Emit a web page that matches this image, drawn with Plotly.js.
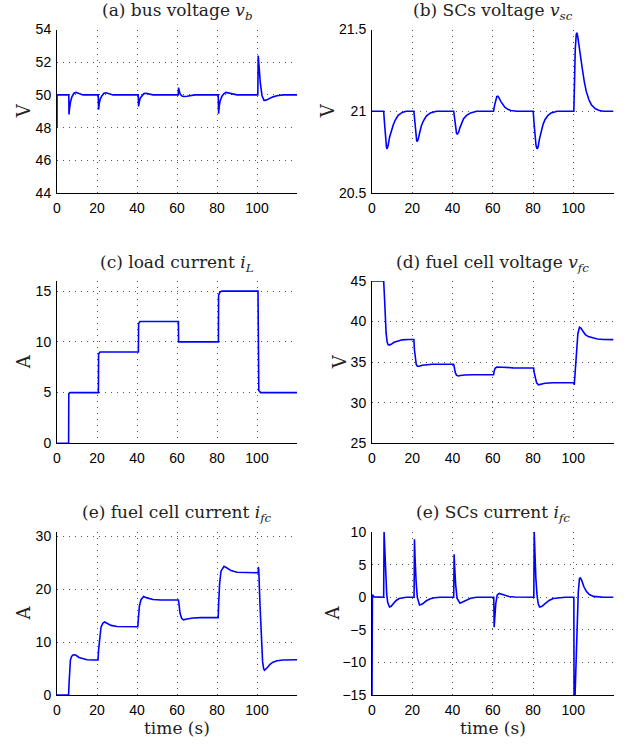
<!DOCTYPE html>
<html>
<head>
<meta charset="utf-8">
<script src="https://cdn.plot.ly/plotly-3.0.1.min.js"></script>
<style>html,body{margin:0;padding:0;background:#fff;}#chart{width:633px;height:744px;}</style>
</head>
<body>
<div id="chart"></div>
<script>
// ---- data ----
const xTicks = [0, 20, 40, 60, 80, 100];

const t_vb = [0, 0.01, 5.9, 6.0, 6.3, 6.8, 7.5, 8.5, 9.5, 11, 13,
  20.6, 20.8, 21.1, 21.6, 22.5, 23.5, 24.5, 26, 28,
  40.6, 40.8, 41.1, 41.6, 42.5, 43.5, 44.5, 46, 48,
  60.6, 60.8, 61.1, 61.6, 62.5, 63.5, 65, 67, 69,
  80.6, 80.8, 81.1, 81.6, 82.5, 83.5, 84.5, 86, 88, 90,
  100.4, 100.6, 101, 101.6, 102.5, 103.5, 104.5, 106, 108, 110, 113, 120];
const vb = [48.0, 50.0, 50.0, 48.8, 49.2, 49.6, 49.9, 50.1, 50.15, 50.08, 50.0,
  50.0, 49.1, 49.45, 49.75, 49.95, 50.1, 50.13, 50.07, 50.0,
  50.0, 49.3, 49.55, 49.8, 49.97, 50.08, 50.1, 50.05, 50.0,
  50.0, 50.45, 50.25, 50.05, 49.93, 49.9, 49.92, 49.97, 50.0,
  50.0, 48.85, 49.3, 49.65, 49.92, 50.08, 50.15, 50.12, 50.05, 50.0,
  50.0, 52.4, 51.8, 50.8, 49.95, 49.67, 49.68, 49.78, 49.88, 49.95, 50.0, 50.0];

const t_vsc = [0, 5.8, 6.2, 6.7, 7.2, 7.5, 8, 8.7, 9.5, 10.5, 11.5, 13, 15, 17,
  20.8, 21.2, 21.7, 22.2, 22.5, 23, 23.7, 24.5, 25.5, 27, 29, 32,
  40.6, 41, 41.5, 42, 42.4, 43, 43.7, 44.5, 45.5, 47, 49, 52,
  60.4, 60.8, 61.4, 62, 62.5, 63, 64, 65, 66, 67.5, 69, 72,
  80.1, 80.5, 81, 81.5, 82, 82.5, 83.2, 84, 85, 86, 87.5, 89, 92,
  100.3, 100.6, 101, 101.5, 101.8, 102.2, 102.8, 103.5, 104.5, 105.5, 106.5, 107.8, 109, 111, 113, 115, 120];
const vsc = [21, 21, 20.93, 20.84, 20.78, 20.77, 20.79, 20.84, 20.88, 20.915, 20.945, 20.975, 20.993, 21,
  21, 20.93, 20.86, 20.82, 20.815, 20.83, 20.87, 20.91, 20.94, 20.97, 20.99, 21,
  21, 20.95, 20.9, 20.865, 20.86, 20.87, 20.9, 20.93, 20.955, 20.975, 20.99, 21,
  21, 21.03, 21.07, 21.09, 21.092, 21.085, 21.06, 21.04, 21.025, 21.012, 21.005, 21,
  21, 20.93, 20.84, 20.79, 20.77, 20.78, 20.83, 20.88, 20.92, 20.95, 20.975, 20.99, 21,
  21, 21.2, 21.38, 21.47, 21.48, 21.46, 21.4, 21.33, 21.26, 21.18, 21.12, 21.07, 21.04, 21.015, 21.005, 21, 21];

const t_iL = [0, 5.8, 5.9, 6.5, 20.7, 20.8, 21.5, 40.7, 40.8, 41.5, 60.7, 60.8, 80.7, 80.8, 81.5, 82.4, 100.5, 100.9, 101.8, 120];
const iL = [0, 0, 4.9, 5, 5, 8.8, 9, 9, 11.8, 12, 12, 10, 10, 14.6, 14.9, 15, 15, 5.2, 5, 5];

const t_vfc = [0, 5.8, 6.2, 6.6, 7.0, 7.5, 8, 8.5, 9.5, 11, 13, 15, 18,
  20.8, 21.1, 21.5, 22, 22.6, 23.5, 25, 27, 30,
  40.6, 40.9, 41.4, 42, 42.8, 44, 46, 50,
  60.4, 60.7, 61.2, 62, 63, 65, 70,
  80.3, 80.6, 81.1, 81.8, 82.7, 84, 86, 90,
  100.3, 100.5, 101, 101.6, 102.3, 103.1, 103.8, 105, 106, 107.5, 109.4, 112, 115, 120];
const vfc = [45, 45, 43, 40.5, 38.6, 37.5, 37.15, 37.1, 37.2, 37.45, 37.65, 37.75, 37.8,
  37.8, 36.5, 35.3, 34.7, 34.5, 34.5, 34.62, 34.7, 34.75,
  34.75, 34.2, 33.7, 33.4, 33.3, 33.35, 33.42, 33.45,
  33.45, 33.9, 34.25, 34.4, 34.42, 34.38, 34.3,
  34.27, 33.7, 33.0, 32.45, 32.2, 32.28, 32.4, 32.46,
  32.46, 32.2, 33.8, 36.5, 38.5, 39.3, 39.2, 38.75, 38.4, 38.15, 37.99, 37.86, 37.8, 37.78];

const t_ifc = [0, 5.8, 6.0, 6.3, 6.7, 7.3, 8, 8.7, 9.5, 11, 13, 15, 18,
  20.5, 20.8, 21.3, 22, 23, 23.8, 25, 27, 30, 35,
  40.4, 40.7, 41.2, 42, 43.3, 45, 48, 52,
  60.7, 60.9, 61.5, 62.3, 63.2, 65, 68, 72,
  80.6, 80.8, 81.3, 82, 83.5, 85, 87, 90, 95,
  100.6, 100.7, 100.9, 101.5, 102.2, 102.8, 103.3, 103.7, 105, 106.5, 108, 110, 113, 120];
const ifc = [0, 0, 2, 5, 6.6, 7.3, 7.55, 7.6, 7.5, 7.1, 6.8, 6.65, 6.6,
  6.6, 8.5, 11, 12.8, 13.6, 13.8, 13.55, 13.15, 12.95, 12.9,
  12.9, 14.5, 16.8, 18, 18.6, 18.35, 18.05, 17.95,
  17.95, 17.5, 15.5, 14.5, 14.2, 14.35, 14.55, 14.62,
  14.62, 17, 21, 23.4, 24.3, 24, 23.5, 23.2, 23.1,
  23.1, 24.2, 23.5, 17, 10, 6.3, 5.0, 4.7, 5.1, 5.8, 6.2, 6.48, 6.6, 6.65];

const t_isc = [0, 0.2, 1, 5.8, 6.0, 6.3, 6.8, 7.3, 7.8, 8.7, 9.5, 10.5, 12, 13.5, 15, 17,
  20.9, 21.1, 21.4, 21.9, 22.5, 23.6, 25, 27, 29, 31, 34,
  40.6, 40.8, 41.1, 41.6, 42.3, 43.7, 45, 47, 49, 52,
  60.5, 60.7, 61, 61.5, 62.2, 63.2, 64.5, 66, 68, 71, 75,
  80.4, 80.6, 80.9, 81.4, 82, 82.6, 83.3, 84.5, 86, 88, 90, 93, 96,
  100.3, 100.4, 100.9, 101.4, 102, 102.5, 103.1, 103.6, 104.3, 105.3, 106.5, 108, 110, 112, 115, 120];
const isc = [-15, 0.4, 0.05, 0, 10, 7, 3, 0.5, -0.8, -1.5, -1.4, -1.0, -0.5, -0.2, -0.08, 0,
  0, 8.9, 6, 2.5, 0, -1.2, -1.05, -0.55, -0.25, -0.08, 0,
  0, 6.6, 4.5, 1.8, -0.2, -0.93, -0.75, -0.4, -0.15, 0,
  0, -4.6, -3, -1, 0.3, 0.57, 0.45, 0.25, 0.1, 0.02, 0,
  0, 10, 7, 3, 0.3, -1, -1.5, -1.4, -1, -0.5, -0.2, -0.05, 0,
  0, -15, -15, -9, -3, 0.8, 2.9, 2.95, 2.5, 1.6, 0.9, 0.4, 0.12, 0.03, 0, 0];

const titles = [
  '(a) bus voltage <i>v</i><sub><i>b</i></sub>',
  '(b) SCs voltage <i>v</i><sub><i>sc</i></sub>',
  '(c) load current <i>i</i><sub><i>L</i></sub>',
  '(d) fuel cell voltage <i>v</i><sub><i>fc</i></sub>',
  '(e) fuel cell current <i>i</i><sub><i>fc</i></sub>',
  '(e) SCs current <i>i</i><sub><i>fc</i></sub>'
];
const yUnits = ['V', 'V', 'A', 'V', 'A', 'A'];
const yRanges = [[44, 54], [20.5, 21.5], [0, 16], [25, 45], [0, 30.8], [-15, 10]];
const yDticks = [2, 0.5, 5, 5, 10, 5];
const xTitle = 'time (s)';

// ---- layout geometry (pixels in a 633x744 page) ----
const W = 633, H = 744;
const colPx = [[57, 297], [372, 613.5]];
const rowPx = [[29.5, 193], [281, 443.3], [532, 695]];
const titleY = [12, 263, 513];
const yLabelX = [23, 327, 23, 339, 23, 332];
const xLabelY = 728;

const series = [[t_vb, vb], [t_vsc, vsc], [t_iL, iL], [t_vfc, vfc], [t_ifc, ifc], [t_isc, isc]];

const data = [];
const layout = {
  width: W, height: H,
  margin: {l: 0, r: 0, t: 0, b: 0},
  paper_bgcolor: '#fff', plot_bgcolor: '#fff',
  showlegend: false,
  font: {family: '"Liberation Sans", Arial, sans-serif', size: 14, color: '#000'},
  annotations: []
};

const serif = '"DejaVu Serif", serif';

for (let k = 0; k < 6; k++) {
  const r = Math.floor(k / 2), c = k % 2;
  const sx = k === 0 ? '' : String(k + 1);
  data.push({
    x: series[k][0], y: series[k][1],
    type: 'scatter', mode: 'lines',
    line: {color: '#0000ff', width: 1.6},
    xaxis: 'x' + sx, yaxis: 'y' + sx,
    hoverinfo: 'skip'
  });
  const xd = [colPx[c][0] / W, colPx[c][1] / W];
  const yd = [1 - rowPx[r][1] / H, 1 - rowPx[r][0] / H];
  layout['xaxis' + sx] = {
    domain: xd, anchor: 'y' + sx, range: [0, 120],
    tickmode: 'array', tickvals: xTicks,
    showline: true, linecolor: '#000', linewidth: 1,
    showgrid: true, gridcolor: '#555', griddash: '1px,5px', gridwidth: 1,
    zeroline: false, ticks: '', ticklabelstandoff: 2,
    tickfont: {size: 14, family: '"Liberation Sans", Arial, sans-serif'}
  };
  layout['yaxis' + sx] = {
    domain: yd, anchor: 'x' + sx, range: yRanges[k], dtick: yDticks[k], tick0: 0,
    showline: true, linecolor: '#000', linewidth: 1,
    showgrid: true, gridcolor: '#555', griddash: '1px,5px', gridwidth: 1,
    zeroline: false, ticks: '', ticklabelstandoff: 2,
    tickfont: {size: 14, family: '"Liberation Sans", Arial, sans-serif'}
  };
  // subplot title
  layout.annotations.push({
    text: titles[k], xref: 'paper', yref: 'paper',
    x: (xd[0] + xd[1]) / 2, y: 1 - titleY[r] / H,
    xanchor: 'center', yanchor: 'middle', showarrow: false,
    font: {family: serif, size: 17, color: '#222'}
  });
  // y-axis unit label
  layout.annotations.push({
    text: yUnits[k], xref: 'paper', yref: 'paper',
    x: yLabelX[k] / W, y: (yd[0] + yd[1]) / 2,
    xanchor: 'center', yanchor: 'middle', textangle: -90, showarrow: false,
    font: {family: serif, size: 18, color: '#222'}
  });
  // x-axis label on bottom row
  if (r === 2) {
    layout.annotations.push({
      text: xTitle, xref: 'paper', yref: 'paper',
      x: (xd[0] + xd[1]) / 2, y: 1 - xLabelY / H,
      xanchor: 'center', yanchor: 'middle', showarrow: false,
      font: {family: serif, size: 17, color: '#222'}
    });
  }
}

Plotly.newPlot('chart', data, layout, {displayModeBar: false, staticPlot: true});
</script>
</body>
</html>
